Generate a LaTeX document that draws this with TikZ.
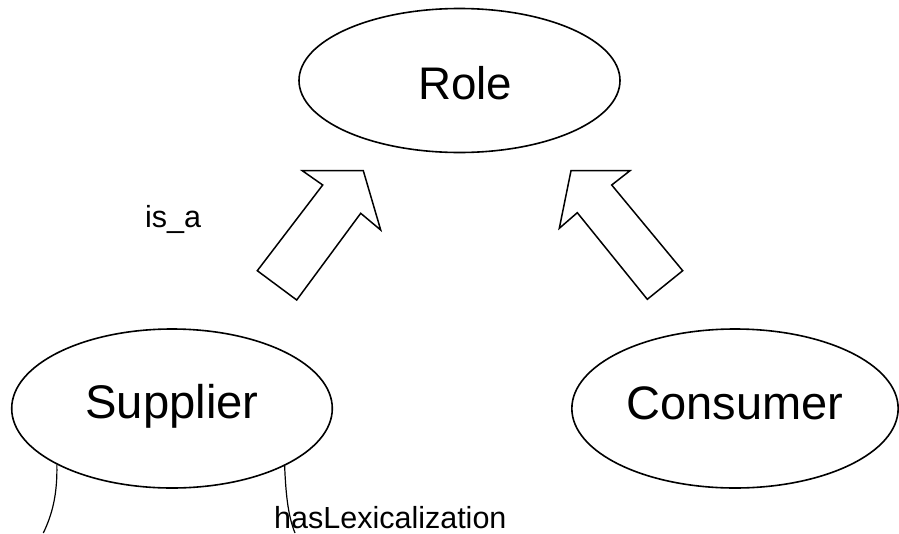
\documentclass[tikz,border=0pt]{standalone}
\usepackage{fontspec}
\setmainfont{Liberation Sans}
\usetikzlibrary{shapes.geometric}
\begin{document}
\begin{tikzpicture}[x=1pt,y=1pt,
  ent/.style={draw, line width=1.6pt, ellipse, inner sep=0pt},
  blockarrow/.style={draw, line width=1.5pt, line join=miter, fill=white},
  link/.style={line width=1.2pt},
  lbl/.style={inner sep=0pt, anchor=base west, font=\fontsize{30.5}{32}\selectfont}]
\useasboundingbox (0,0) rectangle (899,-533);
\node[ent, minimum width=321pt, minimum height=144pt,
      font=\fontsize{45.7}{48}\selectfont, text height=38.4pt, text depth=0pt]
      (role) at (459.5,-80.5) {\hspace{11pt}Role};
\node[ent, minimum width=320.6pt, minimum height=159pt,
      font=\fontsize{47.2}{50}\selectfont, text height=33.8pt, text depth=14.4pt]
      (sup) at (172,-408.5) {Supplier\hspace{7.4pt}};
\node[ent, minimum width=326.3pt, minimum height=159pt,
      font=\fontsize{47}{50}\selectfont, text height=33.7pt, text depth=12.1pt]
      (con) at (735,-408.5) {Consumer};
% block arrows (is_a)
\draw[blockarrow] (302.3,-170.7) -- (363.3,-170.7) -- (380.7,-230) -- (360.7,-213.3)
  -- (296.7,-300) -- (257.3,-270.7) -- (322.7,-185) -- cycle;
\draw[blockarrow] (571,-170.7) -- (630,-170.7) -- (611.7,-185) -- (682.7,-270.7)
  -- (647.3,-299.3) -- (577.3,-212.7) -- (559.3,-228.3) -- cycle;
\node[lbl] (isa) at (145,-227.3) {is\_a};
% connectors leaving the page
\coordinate (lexL) at (43.3,-533);
\coordinate (lexR) at (295,-533);
\draw[link] (sup.206.6) .. controls (57.5,-495) and (52,-515) .. (lexL);
\draw[link] (sup.333.4) .. controls (286,-500) and (289,-518) .. (lexR);
\node[lbl] (lex) at (274,-528.5) {hasLexicalization};
\end{tikzpicture}
\end{document}
